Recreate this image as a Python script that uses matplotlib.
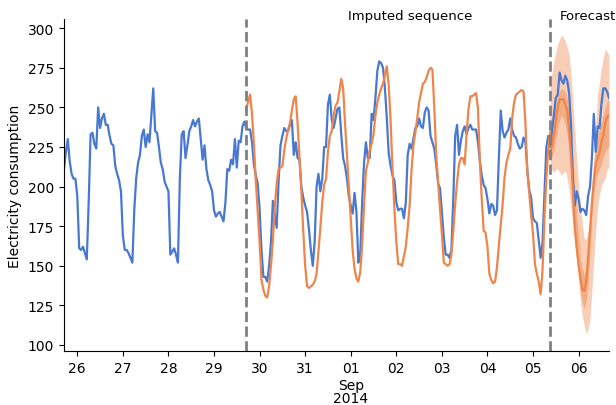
import matplotlib
matplotlib.use("Agg")
import matplotlib.pyplot as plt
import pandas as pd

# hourly observed consumption, starts 2014-08-25 17:00
observed = [
    211, 222, 230, 216, 208, 205, 205,
    194, 161, 160, 162, 158, 154, 190, 233, 234, 227, 224, 250, 237, 243, 246, 239, 239, 232, 227, 226, 213, 208, 204, 197,
    169, 160, 160, 158, 155, 152, 185, 205, 215, 220, 232, 236, 225, 233, 228, 245, 262, 235,
    234, 225, 215, 211, 203, 200,
    197, 157, 159, 161, 157, 152, 205, 233, 235, 218, 226, 235, 238, 242, 238, 241, 243, 230, 217, 226, 211, 204, 201, 197,
    185, 181, 183, 184, 181, 178, 190, 211, 210, 217, 214, 230, 212, 229, 228, 238, 241, 237,
    236, 236, 228, 214, 207, 202,
    186, 160, 143, 143, 140, 150, 165, 191, 182, 174, 203, 226, 232, 237, 235, 235, 239, 242, 220, 228, 218, 217, 200, 193,
    188, 184, 173, 160, 150, 165, 200, 208, 197, 205, 225, 225, 252, 258, 242, 237, 243, 249,
    250, 233, 218, 213, 205, 194,
    188, 183, 196, 184, 152, 157, 190, 215, 228, 218, 218, 246, 242, 256, 273, 279, 278, 275, 262, 243, 221, 213, 207, 204,
    190, 185, 186, 186, 180, 190, 220, 227, 224, 230, 237, 238, 243, 238, 237, 247, 250, 248,
    232, 228, 224, 214, 202, 199,
    184, 168, 157, 157, 155, 160, 192, 232, 239, 220, 229, 235, 238, 233, 237, 239, 236, 236, 236, 228, 216, 207, 201, 199,
    192, 183, 189, 188, 182, 185, 218, 248, 235, 231, 234, 236, 243, 236, 232, 231, 227, 224,
    225, 231, 228, 210, 198, 193,
    180, 178, 177, 166, 155, 165, 195, 225, 232, 225, 236, 245, 256, 258, 272, 267, 265, 270, 267, 259, 239, 204, 188, 197,
    192, 184, 186, 185, 182, 194, 200, 218, 246, 222, 238, 237, 252, 262, 262, 260, 256,
]

# imputed sequence, starts 2014-08-29 17:00
imputed = [
    249, 254, 258, 246, 227, 204, 185,
    165, 141, 135, 131, 130, 137, 150, 166, 187, 202, 211, 212, 213, 223, 230, 236, 240, 248, 255, 257, 240, 219, 197, 172,
    150, 137, 136, 137, 138, 140, 145, 159, 174, 190, 201, 205, 222, 232, 235, 245, 251, 253,
    260, 268, 262, 240, 220, 200,
    180, 160, 148, 142, 140, 146, 163, 188, 210, 215, 223, 227, 233, 245, 253, 258, 262, 265, 270, 276, 264, 241, 211, 186,
    165, 151, 151, 150, 156, 162, 174, 188, 210, 226, 234, 243, 253, 259, 265, 266, 269, 273,
    275, 274, 250, 220, 203, 186,
    170, 152, 151, 150, 151, 157, 172, 189, 203, 214, 218, 218, 214, 233, 249, 257, 257, 258, 259, 249, 216, 192, 172, 171,
    162, 145, 141, 139, 140, 149, 163, 176, 189, 206, 215, 220, 224, 243, 253, 258, 259, 260,
    261, 260, 240, 209, 196, 182,
    170, 151, 145, 140, 132, 147, 180, 205, 224, 234,
]

# forecast, starts 2014-09-05 09:00
fc_median = [222, 226, 233, 242, 250, 255, 255, 255, 252, 248, 236, 220, 196, 174, 161, 150,
             142, 135, 134, 140, 155, 172, 190, 203, 214, 218, 221, 228, 232, 240, 244, 245]
fc_hi90 = [268, 272, 279, 285, 290, 293, 296, 294, 292, 288, 283, 270, 254, 235, 216, 200,
           188, 176, 167, 167, 172, 180, 198, 216, 238, 258, 266, 275, 281, 287, 285, 283]
fc_lo90 = [216, 210, 209, 211, 211, 209, 207, 209, 210, 205, 197, 186, 176, 165, 154, 140,
           127, 118, 112, 107, 110, 116, 135, 154, 172, 188, 195, 201, 203, 205, 211, 212]
fc_hi50 = [237, 240, 243, 250, 258, 260, 262, 261, 260, 255, 247, 233, 218, 200, 182, 168,
           154, 148, 144, 148, 159, 180, 203, 216, 226, 232, 237, 241, 245, 250, 254, 255]
fc_lo50 = [216, 219, 222, 230, 237, 242, 245, 243, 239, 232, 222, 205, 188, 172, 159, 145,
           133, 127, 123, 128, 138, 160, 182, 195, 205, 208, 211, 214, 218, 222, 224, 226]

tick_labels = ["26", "27", "28", "29", "30", "31", "01", "02", "03", "04", "05", "06"]

t_obs = pd.date_range("2014-08-25 17:00", periods=len(observed), freq="h")
t_imp = pd.date_range("2014-08-29 17:00", periods=len(imputed), freq="h")
t_fc = pd.date_range("2014-09-05 09:00", periods=len(fc_median), freq="h")

blue = "#4878d0"
orange = "#ee854a"

fig = plt.figure(figsize=(6.16, 4.06), dpi=100)
ax = fig.add_axes([64 / 616, 1 - 352 / 406, 545 / 616, 332 / 406])

ax.fill_between(t_fc, fc_lo90, fc_hi90, color=orange, alpha=0.4, lw=0)
ax.fill_between(t_fc, fc_lo50, fc_hi50, color=orange, alpha=0.45, lw=0)
ax.plot(t_obs, observed, color=blue, lw=1.6)
ax.plot(t_imp, imputed, color=orange, lw=1.6)
ax.plot(t_fc, fc_median, color=orange, lw=1.6)

ax.axvline(t_imp[0], color="grey", ls="--", lw=2)
ax.axvline(t_fc[0], color="grey", ls="--", lw=2)

xt = ax.get_xaxis_transform()
ax.text(pd.Timestamp("2014-09-02 07:30"), 1.01, "Imputed sequence", fontsize=9.5,
        ha="center", va="center", transform=xt)
ax.text(pd.Timestamp("2014-09-05 14:00"), 1.01, "Forecast", fontsize=9.5,
        ha="left", va="center", transform=xt, clip_on=False)

ax.set_xlim(t_obs[0], t_obs[-1])
ax.set_ylim(96.2, 305.8)
ax.set_yticks(range(100, 301, 25))
ax.set_xticks(pd.date_range("2014-08-26", "2014-09-06", freq="D"))
ax.set_xticklabels(tick_labels)
ax.tick_params(axis="both", labelsize=10)
ax.set_ylabel("Electricity consumption", fontsize=10)

# month / year under the 01 tick
ax.text(pd.Timestamp("2014-09-01"), -0.102, "Sep", fontsize=10, ha="center", va="center", transform=xt)
ax.text(pd.Timestamp("2014-09-01"), -0.143, "2014", fontsize=10, ha="center", va="center", transform=xt)

ax.spines["top"].set_visible(False)
ax.spines["right"].set_visible(False)

fig.savefig("out.png", dpi=100)
